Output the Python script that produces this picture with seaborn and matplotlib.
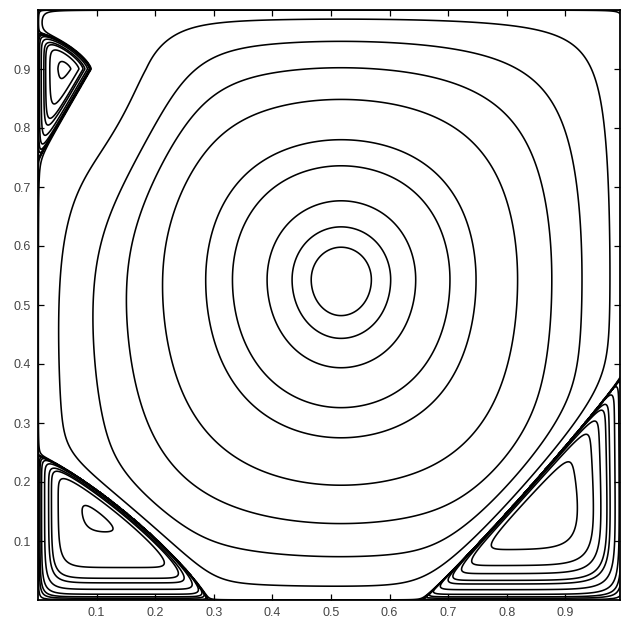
import numpy as np
import matplotlib
matplotlib.use("Agg")
import matplotlib.pyplot as plt
import seaborn as sns

# ---------------- primary vortex ----------------
psi_center = -0.119                 # stream-function value at the vortex centre
vortex_center = (0.517, 0.543)
# growth exponents of the core towards the left, right, bottom and top walls
wall_exponents = (1.15, 1.05, 1.0, 0.93)

# weak-flow pocket next to the upper-left corner
pocket_center = (0.12, 0.84)
pocket_axis = (0.44, 0.90)          # long axis of the pocket
pocket_radii = (0.25, 0.10)         # along / across the long axis
pocket_depth = 0.75

# ---------------- secondary (corner) eddies ----------------
bl_intercepts = (0.29, 0.245)       # separatrix hits bottom wall / left wall
br_intercepts = (0.345, 0.385)      # measured from the bottom-right corner
tl_wall_span = (0.746, 0.961)       # separatrix leaves / rejoins the left wall
tl_tip = (0.09, 0.90)               # right-most point of the upper-left eddy
eddy_peaks = {"bl": 5.12e-4, "br": 1.4e-3, "tl": 5.6e-4}

# ---------------- contour levels ----------------
psi_levels_negative = [-0.1175, -0.115, -0.11, -0.10, -0.09, -0.07, -0.05,
                       -0.03, -0.01, -1e-4, -1e-5, -1e-7, -1e-10]
psi_levels_positive = [1e-10, 1e-8, 1e-7, 1e-6, 1e-5, 5e-5, 1e-4, 2.5e-4,
                       5e-4, 1e-3, 1.5e-3, 3e-3]

tick_values = [0.1, 0.2, 0.3, 0.4, 0.5, 0.6, 0.7, 0.8, 0.9]
tick_labels = ["0.1", "0.2", "0.3", "0.4", "0.5", "0.6", "0.7", "0.8", "0.9"]

# ---------------- stream function on a fine grid ----------------
n = 900
s = np.linspace(0.0, 1.0, n)
X, Y = np.meshgrid(s, s)


def core_profile(q, c, m_lo, m_hi):
    below = q < c
    t = np.where(below, (c - q) / c, (q - c) / (1.0 - c))
    m = np.where(below, m_lo, m_hi)
    t = 1.0 - (1.0 - np.clip(t, 0.0, 1.0)) ** m
    return 1.0 - t ** 2


def superellipse(a, b, p):
    return (np.abs(a) ** p + np.abs(b) ** p) ** (1.0 / p) - 1.0


cx, cy = vortex_center
mL, mR, mB, mT = wall_exponents
f = core_profile(X, cx, mL, mR) * core_profile(Y, cy, mB, mT)

# pocket: elongated gaussian dip that fades out at the lid
ex, ey = np.array(pocket_axis) / np.hypot(*pocket_axis)
dx, dy = X - pocket_center[0], Y - pocket_center[1]
along = dx * ex + dy * ey
across = dx * ey - dy * ex
dip = np.exp(-((along / pocket_radii[0]) ** 2 + (across / pocket_radii[1]) ** 2))
dip *= 1.0 - np.exp(-(1.0 - Y) / 0.015)
pocket = 1.0 - pocket_depth * dip

# separatrix functions (negative inside an eddy)
a1, b1 = bl_intercepts
g_bl = superellipse(X / a1, Y / b1, 1.2)
a2, b2 = br_intercepts
g_br = superellipse((1.0 - X) / a2, Y / b2, 0.95)
y_lo, y_hi = tl_wall_span
tx, ty = tl_tip
yl = np.where(Y > ty, (Y - ty) / (y_hi - ty), (ty - Y) / (ty - y_lo))
p_tl = np.where(Y > ty, 1.4, 1.0)
g_tl = (np.abs(X / tx) ** p_tl + yl ** p_tl) ** (1.0 / p_tl) - 1.0

taper = (np.tanh(np.maximum(g_bl, 0) / 0.15) *
         np.tanh(np.maximum(g_br, 0) / 0.15) *
         np.tanh(np.maximum(g_tl, 0) / 0.5))
psi = psi_center * f * pocket * taper


def ramp(d, width, power):
    return np.tanh(np.clip(d, 0.0, None) / width) ** power


def eddy(inside, shape, peak):
    shape = np.where(inside, shape, 0.0)
    return peak * shape / shape.max()


in_bl = g_bl < 0
in_br = g_br < 0
in_tl = g_tl < 0
bl_shape = ramp(X / a1, 0.10, 4) * ramp(Y / b1, 0.19, 4) * ramp(-g_bl, 0.06, 2)
br_height = np.clip(Y / b2, 0.0, 1.0)
br_shape = (ramp((1.0 - X) / a2, 0.15, 4) * ramp(Y / b2, 0.165, 4) *
            ramp(-g_br, 0.05, 1) * (1.0 - 0.55 * br_height))
tl_shape = ramp(X / tx, 0.25, 3) * ramp(-g_tl, 0.25, 3)
psi = np.where(in_bl, eddy(in_bl, bl_shape, eddy_peaks["bl"]), psi)
psi = np.where(in_br, eddy(in_br, br_shape, eddy_peaks["br"]), psi)
psi = np.where(in_tl, eddy(in_tl, tl_shape, eddy_peaks["tl"]), psi)

# ---------------- figure ----------------
sns.set_theme(style="ticks")
plt.rcParams["font.family"] = ["Liberation Sans", "DejaVu Sans"]
plt.rcParams["contour.negative_linestyle"] = "solid"

fig = plt.figure(figsize=(6.21, 6.24), dpi=100)
fig.patch.set_facecolor("white")
ax = fig.add_axes([38 / 621, 24 / 624, 582 / 621, 590 / 624])
ax.set_facecolor("white")

levels = sorted(psi_levels_negative + psi_levels_positive)
ax.contour(X, Y, psi, levels=levels, colors="black", linewidths=1.15,
           linestyles="solid")

ax.set_xlim(0.0, 0.993)
ax.set_ylim(0.0, 1.0)
ax.set_xticks(tick_values)
ax.set_xticklabels(tick_labels)
ax.set_yticks(tick_values)
ax.set_yticklabels(tick_labels)
ax.tick_params(axis="both", which="both", direction="in", length=4, width=0.9,
               top=True, right=True, labelsize=9, colors="black",
               labelcolor="#444444", pad=5)
for side in ax.spines.values():
    side.set_visible(True)
    side.set_linewidth(1.3)
    side.set_color("black")

fig.savefig("out.png", dpi=100, facecolor="white")
